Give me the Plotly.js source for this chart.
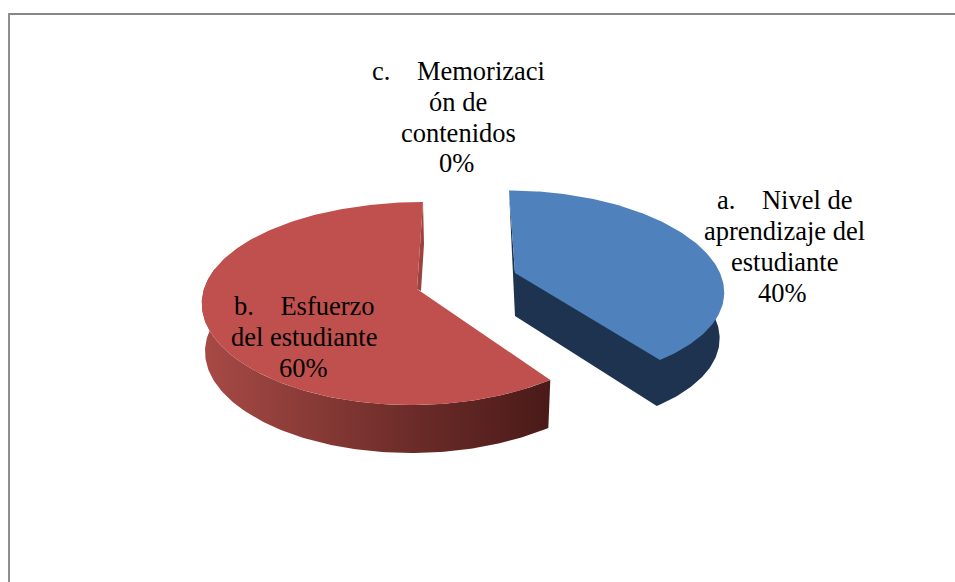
<!DOCTYPE html>
<html><head><meta charset="utf-8">
<script src="https://cdn.plot.ly/plotly-3.0.1.min.js"></script>
<style>html,body{margin:0;padding:0;background:#fff}#c{width:955px;height:582px}</style>
</head><body><div id="c"></div>
<script>
// Data
const categories = ["a.\u00a0\u00a0\u00a0\u00a0Nivel de aprendizaje del estudiante", "b.\u00a0\u00a0\u00a0\u00a0Esfuerzo del estudiante", "c.\u00a0\u00a0\u00a0\u00a0Memorización de contenidos"];
const values = [40, 60, 0];
const percentLabels = ["40%", "60%", "0%"];
// Wrapped lines of each data label, as printed
const labelLines = [
  ["a.\u00a0\u00a0\u00a0\u00a0Nivel de", "aprendizaje del", "estudiante", percentLabels[0]],
  ["b.\u00a0\u00a0\u00a0\u00a0Esfuerzo", "del estudiante", percentLabels[1]],
  ["c.\u00a0\u00a0\u00a0\u00a0Memorizaci", "ón de", "contenidos", percentLabels[2]]
];
const topColors = ["#4f81bd", "#c0504d", "#9bbb59"];

// Layout of the tilted pie (px-like axis units)
const geom = [
  {cx: 515, cy: 273, R: 205, px: 0.173, k: 94.7, p: 0.148, skew: -6, depth: 46, adepth: 43, sx: 0.978},
  {cx: 417, cy: 289, R: 213, px: 0.116, k: 99.4, p: 0.143, skew: 6,  depth: 48, adepth: 48, sx: 0.985}
];
const labelPos = [
  [[784.5,200],[784,231],[784,262],[782.5,293]],
  [[304,306],[304,337],[303,368]],
  [[458,71],[458,102],[458,133],[456.5,163]]
];

function pt(g, deg, level){
  const t = deg*Math.PI/180, X = Math.sin(t), Y = Math.cos(t);
  const sx = level ? g.sx : 1;
  return [g.cx + sx*(g.R*X/(1+g.px*Y) + g.skew*Y), g.cy - g.k*Y/(1+g.p*Y) + (level ? g.depth : 0)];
}
function apex(g, level){ return [g.cx, g.cy + (level ? g.adepth : 0)]; }
function arc(g, a, b, level){
  const out = [], n = Math.max(2, Math.ceil(Math.abs(b-a)));
  for(let i=0;i<=n;i++) out.push(pt(g, a+(b-a)*i/n, level));
  return out;
}
function poly(pts, color, extra){
  return Object.assign({
    type:'scatter', mode:'lines', x:pts.map(p=>p[0]), y:pts.map(p=>p[1]),
    fill:'toself', fillcolor:color, line:{width:0, color:color}, hoverinfo:'skip', showlegend:false
  }, extra||{});
}

const total = values.reduce((a,b)=>a+b,0);
let start = 0;
const traces = [];
// slice 0: blue
{
  const g = geom[0], a = start, b = start + values[0]/total*360;
  traces.push(poly([pt(g,a,0), apex(g,0), apex(g,1)], "#1d3350"));
  traces.push(poly([apex(g,1)].concat(arc(g,b,70,1), [pt(g,70,0), apex(g,0)]), "#1d3350"));
  traces.push(poly([apex(g,0)].concat(arc(g,a,b,0)), topColors[0], {name:categories[0]}));
  start = b;
}
// slice 1: red
{
  const g = geom[1], a = start, b = start + values[1]/total*360;
  traces.push(poly([pt(g,360,0), [g.cx+7, g.cy-45], [g.cx+4, g.cy+2], apex(g,0)], "#9c4340"));
  const wall = arc(g,a,282,0).concat(arc(g,282,a,1));
  traces.push(poly(wall, "#7a3330", {fillgradient:{type:'horizontal', colorscale:[[0,'#a84a46'],[0.3,'#8a3b37'],[0.62,'#6a2b28'],[1,'#4a1a18']]}}));
  traces.push(poly([apex(g,0)].concat(arc(g,a,b,0)), topColors[1], {name:categories[1]}));
  start = b;
}

const annotations = [];
labelLines.forEach((lines,i)=>lines.forEach((txt,j)=>{
  annotations.push({x:labelPos[i][j][0], y:labelPos[i][j][1], xref:'x', yref:'y', text:txt, showarrow:false,
    xanchor:'center', yanchor:'middle', font:{family:'"Liberation Serif","Times New Roman",serif', size:26.5, color:'#000'}});
}));

const layout = {
  width:955, height:582, margin:{l:0,r:0,t:0,b:0}, paper_bgcolor:'#fff', plot_bgcolor:'#fff', showlegend:false,
  xaxis:{range:[0,955], visible:false, fixedrange:true},
  yaxis:{range:[582,0], visible:false, fixedrange:true},
  annotations,
  shapes:[
    {type:'line',x0:8,x1:955,y0:14,y1:14,xref:'x',yref:'y',line:{color:'#868686',width:2}},
    {type:'line',x0:9,x1:9,y0:13,y1:582,xref:'x',yref:'y',line:{color:'#8f8f8f',width:2}}
  ]
};
Plotly.newPlot('c', traces, layout, {displayModeBar:false, staticPlot:true});
</script>
</body></html>
